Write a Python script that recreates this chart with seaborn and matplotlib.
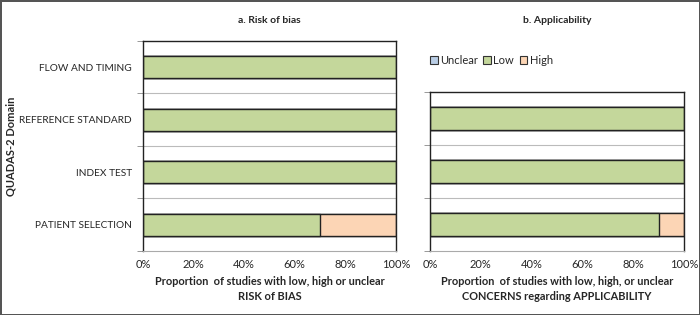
import numpy as np
import pandas as pd
import matplotlib
matplotlib.use('Agg')
import matplotlib.pyplot as plt
import seaborn as sns
from matplotlib.patches import Patch

sns.set_style('white')
plt.rcParams['font.family'] = ['Lato', 'DejaVu Sans']

# Data (top to bottom)
rob_domains = ['FLOW AND TIMING', 'REFERENCE STANDARD', 'INDEX TEST', 'PATIENT SELECTION']
rob_low = [1.0, 1.0, 1.0, 0.7]
rob_high = [0.0, 0.0, 0.0, 0.3]
rob_unclear = [0.0, 0.0, 0.0, 0.0]

app_domains = ['REFERENCE STANDARD', 'INDEX TEST', 'PATIENT SELECTION']
app_low = [1.0, 1.0, 0.9]
app_high = [0.0, 0.0, 0.1]
app_unclear = [0.0, 0.0, 0.0]

c_unclear = '#b9cde5'
c_low = '#c4d79b'
c_high = '#fcd5b5'
x_ticks = [0, 0.2, 0.4, 0.6, 0.8, 1.0]

fig = plt.figure(figsize=(7, 3.15), dpi=100)
fig.patch.set_edgecolor('#555555')
fig.patch.set_linewidth(2)

ax1 = fig.add_axes([0.2043, 0.2032, 0.3614, 0.6667])
ax2 = fig.add_axes([0.6143, 0.2032, 0.3629, 0.5048])


def draw(ax, domains, low, high, unclear):
    df = pd.DataFrame({'domain': domains, 'low': low, 'high': high, 'unclear': unclear})
    df['low_high'] = df['low'] + df['high']
    df['total'] = df['low_high'] + df['unclear']
    kw = dict(y='domain', orient='h', width=0.42, edgecolor='#222222', linewidth=1.0, ax=ax)
    sns.barplot(data=df, x='total', color=c_unclear, saturation=1, **kw)
    sns.barplot(data=df, x='low_high', color=c_high, saturation=1, **kw)
    sns.barplot(data=df, x='low', color=c_low, saturation=1, **kw)
    n = len(domains)
    ax.set_xlim(0, 1)
    ax.set_ylim(n - 0.5, -0.5)
    for b in np.arange(0.5, n - 0.5, 1.0):
        ax.axhline(b, color='#bbbbbb', lw=0.8, zorder=0)
    ax.set_yticks(np.arange(-0.5, n, 1.0), minor=True)
    ax.set_xticks(x_ticks)
    ax.set_xticklabels([f'{int(t * 100)}%' for t in x_ticks], fontsize=8)
    ax.tick_params(axis='x', which='major', direction='out', length=4, color='#888888', pad=2)
    ax.tick_params(axis='y', which='minor', direction='out', length=4, color='#888888', left=True)
    ax.tick_params(axis='y', which='major', length=0, pad=8)
    for s in ['top', 'right', 'left']:
        ax.spines[s].set_color('#222222')
        ax.spines[s].set_linewidth(1.0)
    ax.spines['bottom'].set_color('#aaaaaa')
    ax.spines['bottom'].set_linewidth(0.8)


draw(ax1, rob_domains, rob_low, rob_high, rob_unclear)
draw(ax2, app_domains, app_low, app_high, app_unclear)

ax1.set_yticklabels(rob_domains, fontsize=7.3)
ax1.set_ylabel('QUADAS-2 Domain', fontsize=8, fontweight='bold', labelpad=0)
ax1.yaxis.set_label_coords(-0.5, 0.5)
ax2.set_yticklabels([])
ax2.set_ylabel('')

ax1.set_xlabel('Proportion  of studies with low, high or unclear\nRISK of BIAS',
               fontsize=7.9, fontweight='bold', labelpad=4, linespacing=1.5)
ax2.set_xlabel('Proportion  of studies with low, high, or unclear\nCONCERNS regarding APPLICABILITY',
               fontsize=7.9, fontweight='bold', labelpad=4, linespacing=1.5)

fig.text(0.3850, 0.935, 'a. Risk of bias', ha='center', va='center', fontsize=7.5, fontweight='bold')
fig.text(0.7957, 0.935, 'b. Applicability', ha='center', va='center', fontsize=7.5, fontweight='bold')

handles = [Patch(facecolor=c, edgecolor='#333333', linewidth=0.8) for c in [c_unclear, c_low, c_high]]
ax2.legend(handles, ['Unclear', 'Low', 'High'], loc='center left', bbox_to_anchor=(-0.04, 1.2),
           ncol=3, frameon=False, fontsize=8, handlelength=0.7, handleheight=0.7,
           handletextpad=0.2, columnspacing=0.5)

fig.savefig('out.png', dpi=100)
